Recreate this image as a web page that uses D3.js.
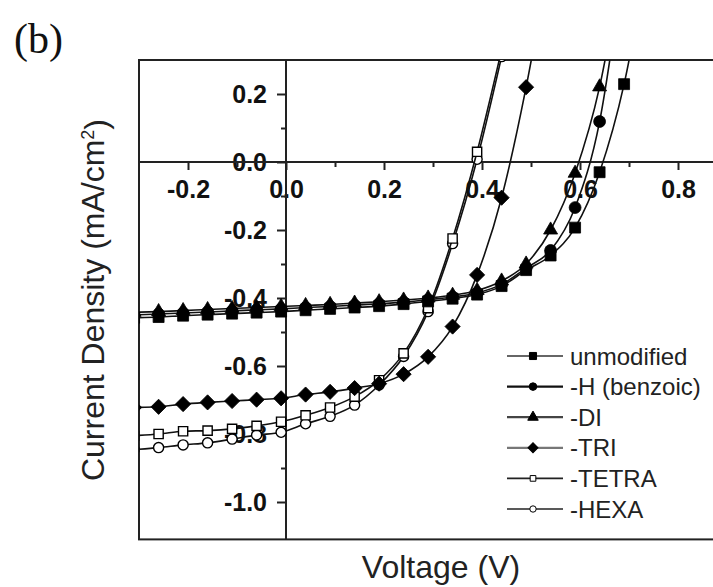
<!DOCTYPE html>
<html>
<head>
<meta charset="utf-8">
<script src="https://cdn.jsdelivr.net/npm/d3@7"></script>
<style>
  body { margin: 0; background: #fff; }
  svg { display: block; }
  text { font-family: "Liberation Sans", Arial, sans-serif; }
</style>
</head>
<body>
<div id="chart"></div>
<script>
const WIDTH = 713;
const HEIGHT = 587;

// voltage grid (V), one marker per point
const voltage = [-0.31, -0.26, -0.21, -0.16, -0.11, -0.06, -0.01, 0.04, 0.09, 0.14, 0.19,
                 0.24, 0.29, 0.34, 0.39, 0.44, 0.49, 0.54, 0.59, 0.64, 0.69, 0.74];

// current density (mA/cm2) per series
const unmodified = [-0.458, -0.456, -0.452, -0.449, -0.446, -0.443, -0.440, -0.436, -0.432, -0.428, -0.424,
                    -0.418, -0.410, -0.402, -0.390, -0.365, -0.318, -0.275, -0.193, -0.030, 0.229, 0.620];
const benzoic = [-0.450, -0.447, -0.444, -0.441, -0.438, -0.435, -0.432, -0.428, -0.425, -0.421, -0.417,
                 -0.412, -0.405, -0.397, -0.385, -0.360, -0.312, -0.260, -0.134, 0.119, 0.600, null];
const di = [-0.442, -0.440, -0.437, -0.434, -0.431, -0.428, -0.425, -0.422, -0.419, -0.415, -0.411,
            -0.406, -0.400, -0.392, -0.378, -0.350, -0.300, -0.200, -0.033, 0.221, 0.620, null];
const tri = [-0.722, -0.720, -0.712, -0.707, -0.703, -0.699, -0.695, -0.684, -0.676, -0.665, -0.652,
             -0.624, -0.573, -0.484, -0.332, -0.105, 0.220, 0.620, null, null, null, null];
const tetra = [-0.805, -0.800, -0.792, -0.790, -0.785, -0.776, -0.764, -0.745, -0.722, -0.690, -0.642,
               -0.563, -0.430, -0.225, 0.030, 0.330, null, null, null, null, null, null];
const hexa = [-0.846, -0.840, -0.832, -0.826, -0.815, -0.803, -0.795, -0.770, -0.748, -0.715, -0.656,
              -0.572, -0.440, -0.240, 0.008, 0.310, null, null, null, null, null, null];

const seriesNames = ['unmodified', '-H (benzoic)', '-DI', '-TRI', '-TETRA', '-HEXA'];
const seriesValues = [unmodified, benzoic, di, tri, tetra, hexa];

const xTicks = [-0.2, 0.0, 0.2, 0.4, 0.6, 0.8];
const xTickLabels = ['-0.2', '0.0', '0.2', '0.4', '0.6', '0.8'];
const xMinorTicks = [-0.1, 0.1, 0.3, 0.5, 0.7];
const yTicks = [-1.0, -0.8, -0.6, -0.4, -0.2, 0.0, 0.2];
const yTickLabels = ['-1.0', '-0.8', '-0.6', '-0.4', '-0.2', '0.0', '0.2'];
const yMinorTicks = [-0.9, -0.7, -0.5, -0.3, -0.1, 0.1];

// marker style per series
const styles = [
  {shape: 'square', fill: '#000', size: 120, legendSize: 50, line: '#666'},
  {shape: 'circle', fill: '#000', size: 110, legendSize: 45, line: '#111'},
  {shape: 'triangle', fill: '#000', size: 85, legendSize: 48, line: '#444'},
  {shape: 'diamond', fill: '#000', size: 115, legendSize: 50, line: '#777'},
  {shape: 'square', fill: '#fff', size: 85, legendSize: 32, line: '#222'},
  {shape: 'circle', fill: '#fff', size: 80, legendSize: 32, line: '#222'}
];

const plot = {left: 139, top: 60, right: 727, bottom: 539.4};

const x = d3.scaleLinear().domain([-0.3, 0.9]).range([plot.left, plot.right]);
const y = d3.scaleLinear().domain([-1.11, 0.3]).range([plot.bottom, plot.top]);

const svg = d3.select('#chart')
  .append('svg')
    .attr('width', WIDTH)
    .attr('height', HEIGHT);

svg.append('rect').attr('width', WIDTH).attr('height', HEIGHT).attr('fill', '#fff');

svg.append('defs').append('clipPath')
    .attr('id', 'clip')
  .append('rect')
    .attr('x', plot.left)
    .attr('y', plot.top)
    .attr('width', plot.right - plot.left)
    .attr('height', plot.bottom - plot.top);

// panel label
svg.append('text')
  .attr('x', 14)
  .attr('y', 53)
  .style('font-family', '"Liberation Serif", "Times New Roman", serif')
  .style('font-size', '42px')
  .style('fill', '#111')
  .text('(b)');

// axes crossing at zero
const xAxis = d3.axisBottom(x)
  .tickValues(xTicks)
  .tickSize(8)
  .tickPadding(10)
  .tickFormat((d, i) => xTickLabels[i]);

const xAxisMinor = d3.axisBottom(x)
  .tickValues(xMinorTicks)
  .tickSize(5)
  .tickFormat('');

const yAxis = d3.axisLeft(y)
  .tickValues(yTicks)
  .tickSize(9)
  .tickPadding(10)
  .tickFormat((d, i) => yTickLabels[i]);

const yAxisMinor = d3.axisLeft(y)
  .tickValues(yMinorTicks)
  .tickSize(5)
  .tickFormat('');

const styleAxis = g => {
  g.select('.domain').remove();
  g.selectAll('line').attr('stroke', '#222').attr('stroke-width', 2);
  g.selectAll('text')
    .attr('fill', '#111')
    .style('font-size', '25px')
    .style('font-weight', 'bold');
};

svg.append('g').attr('transform', `translate(0,${y(0)})`).call(xAxis).call(styleAxis);
svg.append('g').attr('transform', `translate(0,${y(0)})`).call(xAxisMinor).call(styleAxis);
svg.append('g').attr('transform', `translate(${x(0)},0)`).call(yAxis).call(styleAxis);
svg.append('g').attr('transform', `translate(${x(0)},0)`).call(yAxisMinor).call(styleAxis);

// frame and zero lines
svg.append('rect')
  .attr('x', plot.left)
  .attr('y', plot.top)
  .attr('width', plot.right - plot.left)
  .attr('height', plot.bottom - plot.top)
  .attr('fill', 'none')
  .attr('stroke', '#222')
  .attr('stroke-width', 2);

svg.append('line')
  .attr('x1', plot.left).attr('x2', plot.right)
  .attr('y1', y(0)).attr('y2', y(0))
  .attr('stroke', '#222').attr('stroke-width', 2);

svg.append('line')
  .attr('x1', x(0)).attr('x2', x(0))
  .attr('y1', plot.top).attr('y2', plot.bottom)
  .attr('stroke', '#222').attr('stroke-width', 2);

// axis titles
svg.append('text')
  .attr('x', 441)
  .attr('y', 578)
  .attr('text-anchor', 'middle')
  .style('font-size', '32px')
  .style('fill', '#222')
  .text('Voltage (V)');

const yTitle = svg.append('text')
  .attr('transform', 'translate(104,300) rotate(-90)')
  .attr('text-anchor', 'middle')
  .style('font-size', '32px')
  .style('fill', '#222');
yTitle.append('tspan').text('Current Density (mA/cm');
yTitle.append('tspan').attr('dy', '-0.55em').style('font-size', '18px').text('2');
yTitle.append('tspan').attr('dy', '0.4em').text(')');

// markers
const symbolPath = (shape, size) => {
  const type = shape === 'circle' ? d3.symbolCircle
    : shape === 'triangle' ? d3.symbolTriangle
    : d3.symbolSquare;
  return d3.symbol().type(type).size(size)();
};
const symbolRotate = shape => shape === 'diamond' ? ' rotate(45)' : '';

const line = d3.line()
  .defined(d => d.j !== null)
  .x(d => x(d.v))
  .y(d => y(d.j))
  .curve(d3.curveMonotoneX);

const dataArea = svg.append('g').attr('clip-path', 'url(#clip)');

// draw from back to front: open markers first
const drawOrder = [5, 4, 3, 2, 1, 0];
drawOrder.forEach(k => {
  const pts = voltage.map((v, i) => ({v, j: seriesValues[k][i]})).filter(d => d.j !== null);
  const st = styles[k];
  const g = dataArea.append('g');
  g.append('path')
    .datum(pts)
    .attr('d', line)
    .attr('fill', 'none')
    .attr('stroke', '#111')
    .attr('stroke-width', 1.6);
  g.selectAll('path.mk')
    .data(pts)
    .join('path')
      .attr('class', 'mk')
      .attr('transform', d => `translate(${x(d.v)},${y(d.j)})${symbolRotate(st.shape)}`)
      .attr('d', symbolPath(st.shape, st.size))
      .attr('fill', st.fill)
      .attr('stroke', '#000')
      .attr('stroke-width', st.fill === '#fff' ? 1.4 : 0.8);
});

// legend
const legend = svg.append('g');
const legendY = d3.scaleLinear().domain([0, 5]).range([356, 509]);
seriesNames.forEach((name, k) => {
  const st = styles[k];
  const cy = legendY(k);
  legend.append('line')
    .attr('x1', 507).attr('x2', 563)
    .attr('y1', cy).attr('y2', cy)
    .attr('stroke', st.line)
    .attr('stroke-width', k < 4 ? 2.2 : 1.6);
  legend.append('path')
    .attr('transform', `translate(533,${cy})${symbolRotate(st.shape)}`)
    .attr('d', symbolPath(st.shape, st.legendSize))
    .attr('fill', st.fill)
    .attr('stroke', '#000')
    .attr('stroke-width', 1);
  legend.append('text')
    .attr('x', 570)
    .attr('y', cy + 8.5)
    .style('font-size', '24px')
    .style('fill', '#222')
    .text(name);
});
</script>
</body>
</html>
